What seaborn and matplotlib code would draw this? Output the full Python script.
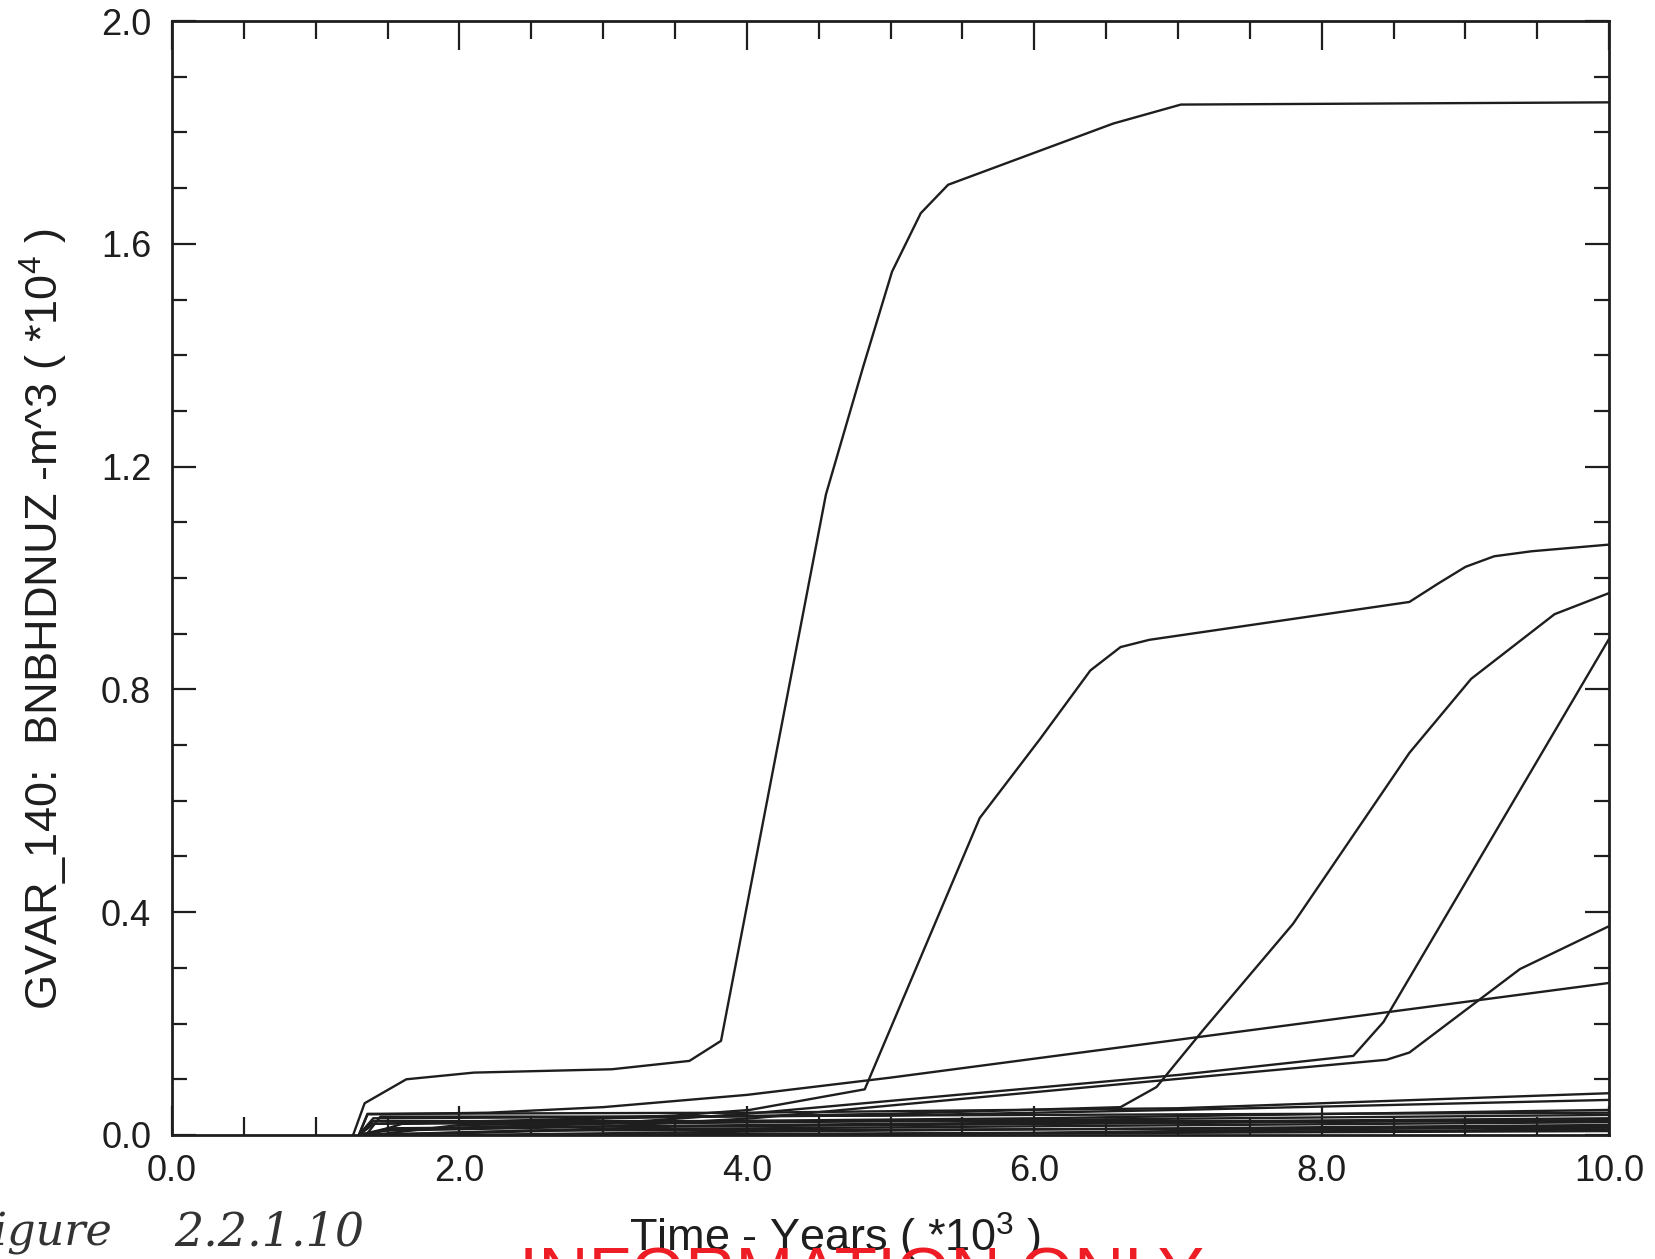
import numpy as np
import pandas as pd
import matplotlib
matplotlib.use("Agg")
import matplotlib.pyplot as plt
import seaborn as sns
from matplotlib.ticker import MultipleLocator, FormatStrFormatter

# ---------------- data (time in 10^3 years, value in 10^4 m^3) ----------------
t_run1 = [1.26, 1.34, 1.63, 2.1, 3.06, 3.6, 3.82, 4.55, 4.81, 5.01, 5.21, 5.4, 6.55, 7.02, 10.0]
v_run1 = [0.0, 0.057, 0.10, 0.112, 0.118, 0.133, 0.169, 1.15, 1.38, 1.55, 1.655, 1.706, 1.816, 1.85, 1.854]

t_run2 = [1.3, 1.4, 2.5, 3.5, 4.02, 4.82, 5.62, 6.04, 6.39, 6.6, 6.8, 8.61, 8.81, 9.0, 9.2, 9.46, 10.0]
v_run2 = [0.0, 0.02, 0.025, 0.035, 0.045, 0.082, 0.569, 0.711, 0.834, 0.876, 0.889, 0.957, 0.99, 1.02, 1.039, 1.048, 1.06]

t_run3 = [1.3, 1.4, 3.0, 5.0, 6.6, 6.85, 7.18, 7.8, 8.61, 9.04, 9.62, 10.0]
v_run3 = [0.0, 0.02, 0.03, 0.038, 0.05, 0.086, 0.19, 0.379, 0.686, 0.819, 0.935, 0.973]

t_run4 = [1.3, 1.5, 3.0, 4.04, 7.01, 8.22, 8.43, 10.0]
v_run4 = [0.0, 0.01, 0.02, 0.039, 0.108, 0.142, 0.203, 0.891]

t_run5 = [1.3, 1.5, 3.0, 4.04, 6.8, 8.45, 8.61, 9.38, 10.0]
v_run5 = [0.0, 0.008, 0.015, 0.03, 0.096, 0.135, 0.148, 0.298, 0.375]

t_run6 = [1.3, 1.36, 2.2, 3.0, 4.0, 5.0, 10.0]
v_run6 = [0.0, 0.037, 0.04, 0.05, 0.072, 0.103, 0.273]

t_run7 = [1.3, 1.36, 4.0, 7.0, 10.0]
v_run7 = [0.0, 0.038, 0.04, 0.048, 0.075]

t_run8 = [1.3, 1.4, 5.0, 7.0, 10.0]
v_run8 = [0.0, 0.03, 0.035, 0.045, 0.063]

t_run9 = [1.35, 1.6, 6.0, 10.0]
v_run9 = [0.0, 0.02, 0.03, 0.045]

t_run10 = [1.4, 2.0, 10.0]
v_run10 = [0.0, 0.018, 0.036]

t_run11 = [1.3, 1.5, 5.0, 10.0]
v_run11 = [0.0, 0.012, 0.02, 0.03]

t_run12 = [1.5, 3.0, 10.0]
v_run12 = [0.0, 0.01, 0.023]

t_run13 = [2.0, 4.0, 10.0]
v_run13 = [0.0, 0.006, 0.018]

t_run14 = [1.3, 2.5, 10.0]
v_run14 = [0.0, 0.008, 0.013]

t_run15 = [3.0, 10.0]
v_run15 = [0.0, 0.007]

t_run16 = [1.3, 1.4, 10.0]
v_run16 = [0.0, 0.025, 0.025]

t_run17 = [4.0, 10.0]
v_run17 = [0.0, 0.01]

t_run18 = [1.35, 1.45, 3.0, 10.0]
v_run18 = [0.0, 0.033, 0.033, 0.04]

t_run19 = [1.4, 3.5, 10.0]
v_run19 = [0.0, 0.015, 0.027]

t_run20 = [2.5, 6.0, 10.0]
v_run20 = [0.0, 0.004, 0.016]

runs = [
    (t_run1, v_run1), (t_run2, v_run2), (t_run3, v_run3), (t_run4, v_run4),
    (t_run5, v_run5), (t_run6, v_run6), (t_run7, v_run7), (t_run8, v_run8),
    (t_run9, v_run9), (t_run10, v_run10), (t_run11, v_run11), (t_run12, v_run12),
    (t_run13, v_run13), (t_run14, v_run14), (t_run15, v_run15), (t_run16, v_run16),
    (t_run17, v_run17), (t_run18, v_run18), (t_run19, v_run19), (t_run20, v_run20),
]

x_ticks = [0.0, 2.0, 4.0, 6.0, 8.0, 10.0]
y_ticks = [0.0, 0.4, 0.8, 1.2, 1.6, 2.0]

rows = []
for i, (ts, vs) in enumerate(runs):
    for t, v in zip(ts, vs):
        rows.append({"run": i + 1, "time": t, "value": v})
df = pd.DataFrame(rows)

# ---------------- style ----------------
sns.set_style("ticks")
plt.rcParams["font.family"] = ["Liberation Sans", "DejaVu Sans"]
plt.rcParams["mathtext.fontset"] = "custom"
plt.rcParams["mathtext.rm"] = "Liberation Sans"
plt.rcParams["mathtext.it"] = "Liberation Sans:italic"
plt.rcParams["mathtext.default"] = "regular"

fig = plt.figure(figsize=(16.56, 12.59), dpi=100)
ax = fig.add_axes([0.1039, 0.0985, 0.8678, 0.8848])

sns.lineplot(data=df, x="time", y="value", units="run", estimator=None,
             color="#1e1e1e", linewidth=1.7, ax=ax, legend=False, sort=False)

ax.set_xlim(0, 10)
ax.set_ylim(0, 2.0)
ax.set_xticks(x_ticks)
ax.set_yticks(y_ticks)
ax.xaxis.set_minor_locator(MultipleLocator(0.5))
ax.yaxis.set_minor_locator(MultipleLocator(0.1))
ax.xaxis.set_major_formatter(FormatStrFormatter("%.1f"))
ax.yaxis.set_major_formatter(FormatStrFormatter("%.1f"))

for s in ax.spines.values():
    s.set_linewidth(2.0)
    s.set_color("#1e1e1e")
    s.set_visible(True)

ax.tick_params(which="both", direction="in", top=True, right=True,
               color="#1e1e1e", width=1.6, labelcolor="#1e1e1e")
ax.tick_params(axis="x", which="major", length=21, labelsize=26, pad=14)
ax.tick_params(axis="x", which="minor", length=13)
ax.tick_params(axis="y", which="major", length=17, labelsize=26, pad=15)
ax.tick_params(axis="y", which="minor", length=11)

ax.set_xlabel("")
ax.set_ylabel("GVAR_140:  BNBHDNUZ -m^3 ( *10$^4$ )", fontsize=32.5, color="#1e1e1e")
ax.yaxis.set_label_coords(-0.089, 0.463)
ax.yaxis.label.set_va("center")

fig.text(0.504, 0.0056, "Time - Years ( *10$^3$ )", fontsize=32.5, ha="center",
         va="baseline", color="#1e1e1e")
fig.text(0.52, -0.0286, "INFORMATION ONLY", fontsize=50, ha="center",
         va="baseline", color="#ee1c24")
fig.text(0.068, 0.011, "Figure", fontsize=32, ha="right", va="baseline",
         color="#333333", family="DejaVu Serif", style="italic")
fig.text(0.105, 0.011, "2.2.1.10", fontsize=33, ha="left", va="baseline",
         color="#333333", family="DejaVu Serif", style="italic")

fig.savefig("out.png", dpi=100, facecolor="white")
